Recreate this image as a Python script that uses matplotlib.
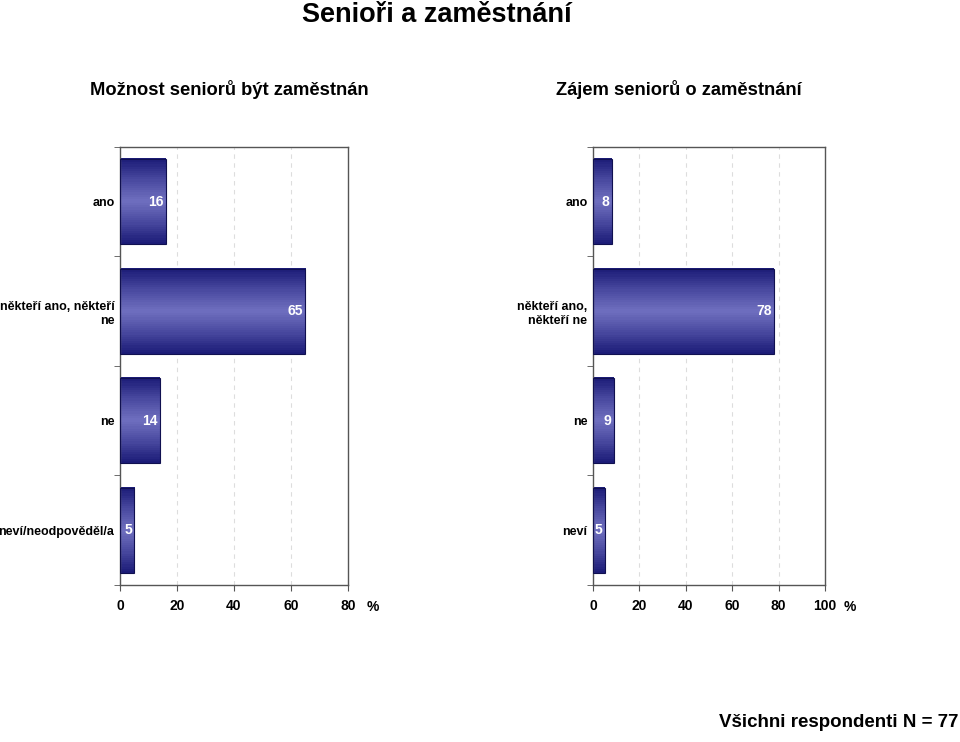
import numpy as np
import matplotlib
matplotlib.use("Agg")
import matplotlib.pyplot as plt
from matplotlib.colors import LinearSegmentedColormap

plt.rcParams['font.family'] = ['Liberation Sans', 'DejaVu Sans']

# data
left_cats = ["ano", "někteří ano, někteří\nne", "ne", "neví/neodpověděl/a"]
left_vals = [16, 65, 14, 5]
right_cats = ["ano", "někteří ano,\nněkteří ne", "ne", "neví"]
right_vals = [8, 78, 9, 5]

grad = LinearSegmentedColormap.from_list(
    "bar", ["#1c1c78", "#4a4aa0", "#7070c0", "#4a4aa0", "#1c1c78"])


def draw_panel(ax, cats, vals, xmax, ticks):
    n = len(cats)
    ypos = np.arange(n)
    h = 0.78
    bars = ax.barh(ypos, vals, height=h, color="none",
                   edgecolor="#101050", linewidth=0.8, zorder=3)
    g = np.linspace(0, 1, 40).reshape(-1, 1)
    for b in bars:
        x0, y0 = b.get_x(), b.get_y()
        w, hh = b.get_width(), b.get_height()
        ax.imshow(g, cmap=grad, aspect="auto", interpolation="nearest",
                  extent=(x0, x0 + w, y0 + hh, y0), zorder=2)
    for y, v in zip(ypos, vals):
        ax.text(v - 0.8 * xmax / 80, y, str(v), ha="right", va="center",
                color="white", fontsize=10, fontweight="bold", zorder=4)
    ax.set_xlim(0, xmax)
    ax.set_ylim(n - 0.5, -0.5)
    ax.set_xticks(ticks)
    ax.set_xticklabels([str(t) for t in ticks], fontsize=10, fontweight="bold")
    ax.set_yticks(ypos)
    ax.set_yticklabels(cats, fontsize=9, fontweight="bold")
    ax.tick_params(axis="y", length=0, pad=4)
    ax.set_yticks(np.arange(n + 1) - 0.5, minor=True)
    ax.tick_params(axis="y", which="minor", length=4, color="#555555")
    ax.tick_params(axis="x", length=4, color="#555555", pad=6)
    for t in ticks[1:-1]:
        ax.axvline(t, color="#dddddd", linestyle=(0, (4, 4)),
                   linewidth=0.8, zorder=1)
    for s in ax.spines.values():
        s.set_color("#555555")
        s.set_linewidth(1)
    ax.text(1.08, -0.035, "%", transform=ax.transAxes, ha="left",
            va="top", fontsize=10, fontweight="bold")


fig = plt.figure(figsize=(9.6, 7.42), dpi=100)

ax1 = fig.add_axes([0.125, 0.2116, 0.2375, 0.5903])
draw_panel(ax1, left_cats, left_vals, 80, [0, 20, 40, 60, 80])

ax2 = fig.add_axes([0.6177, 0.2116, 0.2417, 0.5903])
draw_panel(ax2, right_cats, right_vals, 100, [0, 20, 40, 60, 80, 100])

fig.text(0.455, 0.98, "Senioři a zaměstnání", ha="center", va="center",
         fontsize=19.5, fontweight="bold")
fig.text(0.239, 0.879, "Možnost seniorů být zaměstnán", ha="center",
         va="center", fontsize=13.2, fontweight="bold")
fig.text(0.707, 0.879, "Zájem seniorů o zaměstnání", ha="center",
         va="center", fontsize=13.2, fontweight="bold")
fig.text(0.998, 0.015, "Všichni respondenti N = 77", ha="right",
         va="bottom", fontsize=13.5, fontweight="bold")

fig.savefig("out.png", dpi=100)
